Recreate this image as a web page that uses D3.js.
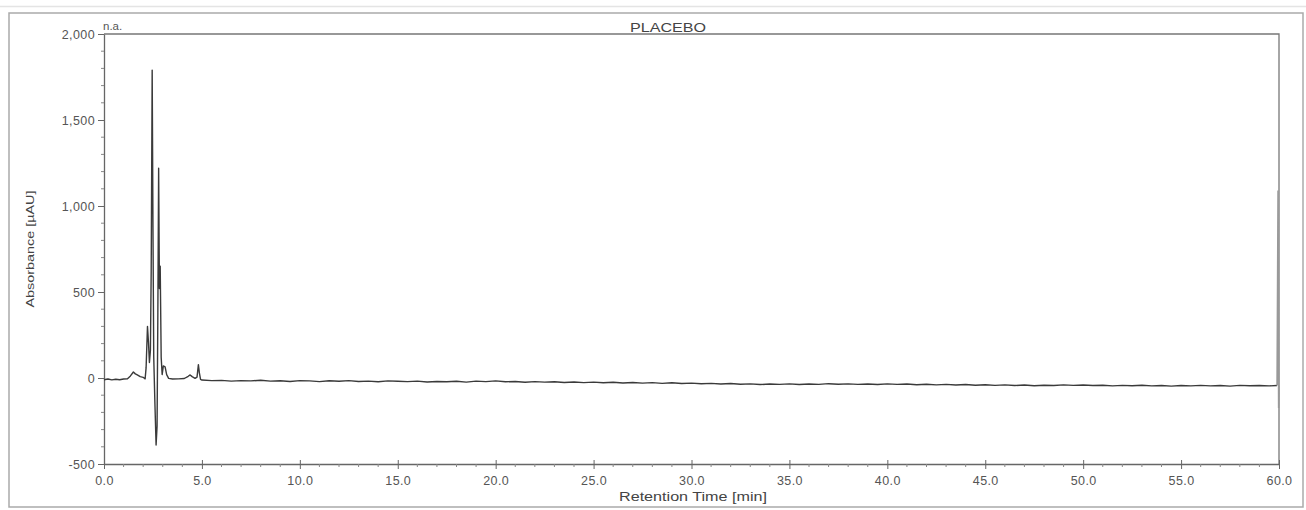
<!DOCTYPE html>
<html>
<head>
<meta charset="utf-8">
<script src="https://cdn.jsdelivr.net/npm/d3@7"></script>
<style>
  html, body { margin: 0; padding: 0; background: #fff; }
  svg { display: block; font-family: "Liberation Sans", Arial, sans-serif; }
</style>
</head>
<body>
<svg id="chart" width="1306" height="510"></svg>
<script>
// ---- data ----
const chartTitle = "PLACEBO";
const yUnitNote = "n.a.";
const xTitle = "Retention Time [min]";
const yTitle = "Absorbance [µAU]";
const xTickValues = [0, 5, 10, 15, 20, 25, 30, 35, 40, 45, 50, 55, 60];
const yTickValues = [-500, 0, 500, 1000, 1500, 2000];
const yTickLabels = ["-500", "0", "500", "1,000", "1,500", "2,000"];

// early peak region: [time (min), absorbance (µAU)]
const peakRegion = [
  [0.0, -10], [0.2, -6], [0.4, -11], [0.6, -7], [0.8, -10], [1.0, -6], [1.2, -4],
  [1.35, 12], [1.5, 35], [1.6, 24], [1.7, 18], [1.85, 8], [2.0, 4], [2.1, -5],
  [2.15, 60], [2.22, 300], [2.27, 210], [2.32, 90], [2.37, 160], [2.41, 620],
  [2.46, 1790], [2.5, 880], [2.54, 120], [2.6, -150], [2.66, -390], [2.71, -280],
  [2.75, 380], [2.79, 1220], [2.83, 520], [2.87, 650], [2.92, 120], [2.97, 20],
  [3.03, 70], [3.12, 65], [3.2, 20], [3.3, -2], [3.5, -6], [3.8, -5], [4.1, -3],
  [4.3, 10], [4.4, 18], [4.5, 8], [4.65, -2], [4.75, 5], [4.82, 78], [4.87, 30],
  [4.93, -8]
];

// baseline after 5 min: [time (min), absorbance (µAU)]
const baseline = [
  [5.0, -12], [5.5, -15], [6.0, -14], [6.5, -18], [7.0, -15], [7.5, -17], [8.0, -13],
  [8.5, -18], [9.0, -16], [9.5, -20], [10.0, -15], [10.5, -17], [11.0, -21], [11.5, -16],
  [12.0, -19], [12.5, -15], [13.0, -20], [13.5, -18], [14.0, -22], [14.5, -17], [15.0, -19],
  [15.5, -21], [16.0, -18], [16.5, -23], [17.0, -20], [17.5, -22], [18.0, -19], [18.5, -24],
  [19.0, -18], [19.5, -21], [20.0, -17], [20.5, -22], [21.0, -20], [21.5, -25], [22.0, -21],
  [22.5, -24], [23.0, -22], [23.5, -26], [24.0, -23], [24.5, -27], [25.0, -24], [25.5, -28],
  [26.0, -25], [26.5, -29], [27.0, -26], [27.5, -30], [28.0, -27], [28.5, -31], [29.0, -28],
  [29.5, -32], [30.0, -30], [30.5, -33], [31.0, -31], [31.5, -35], [32.0, -32], [32.5, -36],
  [33.0, -34], [33.5, -38], [34.0, -35], [34.5, -37], [35.0, -34], [35.5, -38], [36.0, -35],
  [36.5, -37], [37.0, -33], [37.5, -36], [38.0, -34], [38.5, -37], [39.0, -35], [39.5, -38],
  [40.0, -34], [40.5, -37], [41.0, -35], [41.5, -39], [42.0, -36], [42.5, -40], [43.0, -37],
  [43.5, -41], [44.0, -38], [44.5, -42], [45.0, -39], [45.5, -43], [46.0, -40], [46.5, -44],
  [47.0, -41], [47.5, -45], [48.0, -42], [48.5, -44], [49.0, -40], [49.5, -43], [50.0, -41],
  [50.5, -44], [51.0, -42], [51.5, -46], [52.0, -43], [52.5, -45], [53.0, -42], [53.5, -46],
  [54.0, -44], [54.5, -47], [55.0, -44], [55.5, -46], [56.0, -43], [56.5, -46], [57.0, -44],
  [57.5, -47], [58.0, -43], [58.5, -45], [59.0, -44], [59.5, -46], [59.9, -44]
];

// end-of-run spike
const endSpike = [[59.95, 1090], [59.98, -175], [60.0, -45]];

// ---- drawing ----
const svg = d3.select("#chart");
const W = 1306, H = 510;
const plot = { left: 104, right: 1279, top: 34, bottom: 464 };

const x = d3.scaleLinear().domain([0, 60]).range([plot.left, plot.right]);
const y = d3.scaleLinear().domain([-500, 2000]).range([plot.bottom, plot.top]);

const grayText = "#555";

// faint scan line at top
svg.append("line").attr("x1", 0).attr("x2", W).attr("y1", 6.5).attr("y2", 6.5)
  .attr("stroke", "#e4e4e4").attr("stroke-width", 1.5);

// outer frame
svg.append("rect").attr("x", 9).attr("y", 13).attr("width", 1294).attr("height", 494)
  .attr("fill", "none").attr("stroke", "#aaa").attr("stroke-width", 1.5);

// plot top & right frame lines
svg.append("path")
  .attr("d", `M${plot.left},${plot.top}H${plot.right}V${plot.bottom}`)
  .attr("fill", "none").attr("stroke", "#777").attr("stroke-width", 1.3);

// y axis
const yAxis = d3.axisLeft(y).tickValues(yTickValues).tickSize(6).tickSizeOuter(0)
  .tickFormat((d, i) => yTickLabels[i]);
const gy = svg.append("g").attr("transform", `translate(${plot.left},0)`).call(yAxis);
gy.select(".domain").attr("stroke", "#666").attr("stroke-width", 1.3);
gy.selectAll(".tick line").attr("stroke", "#666");
gy.selectAll(".tick text").attr("fill", grayText).attr("font-size", 12.5)
  .attr("x", -9).attr("letter-spacing", 0.4);

const yMinor = d3.range(-500, 2001, 100).filter(v => v % 500 !== 0);
svg.append("g").selectAll("line").data(yMinor).join("line")
  .attr("x1", plot.left - 3).attr("x2", plot.left)
  .attr("y1", d => y(d)).attr("y2", d => y(d))
  .attr("stroke", "#888");

// x axis
const xAxis = d3.axisBottom(x).tickValues(xTickValues).tickSize(5).tickSizeOuter(0)
  .tickFormat(d3.format(".1f"));
const gx = svg.append("g").attr("transform", `translate(0,${plot.bottom})`).call(xAxis);
gx.select(".domain").attr("stroke", "#666").attr("stroke-width", 1.3);
gx.selectAll(".tick line").attr("stroke", "#666").attr("y1", -4);
gx.selectAll(".tick text").attr("fill", grayText).attr("font-size", 12.5)
  .attr("y", 12).attr("letter-spacing", 0.4);

const xMinor = d3.range(0, 61, 1).filter(v => v % 5 !== 0);
svg.append("g").selectAll("line").data(xMinor).join("line")
  .attr("x1", d => x(d)).attr("x2", d => x(d))
  .attr("y1", plot.bottom).attr("y2", plot.bottom + 3)
  .attr("stroke", "#888");

// titles
svg.append("text").attr("x", 668).attr("y", 32).attr("text-anchor", "middle")
  .attr("font-size", 13.5).attr("fill", "#444")
  .attr("textLength", 76).attr("lengthAdjust", "spacingAndGlyphs").text(chartTitle);
svg.append("text").attr("x", 103).attr("y", 30)
  .attr("font-size", 11.5).attr("fill", grayText).text(yUnitNote);
svg.append("text").attr("x", 693).attr("y", 501).attr("text-anchor", "middle")
  .attr("font-size", 12.5).attr("fill", "#444")
  .attr("textLength", 148).attr("lengthAdjust", "spacingAndGlyphs").text(xTitle);
svg.append("text").attr("transform", `translate(34,249) rotate(-90)`)
  .attr("text-anchor", "middle").attr("font-size", 11.5).attr("fill", "#444")
  .attr("textLength", 117).attr("lengthAdjust", "spacingAndGlyphs").text(yTitle);

// trace
const line = d3.line().x(d => x(d[0])).y(d => y(d[1]));
const trace = peakRegion.concat(baseline);
svg.append("path").datum(trace).attr("d", line)
  .attr("fill", "none").attr("stroke", "#3a3a3a").attr("stroke-width", 1.4)
  .attr("stroke-linejoin", "round");
svg.append("path").datum([baseline[baseline.length - 1]].concat(endSpike)).attr("d", line)
  .attr("fill", "none").attr("stroke", "#999").attr("stroke-width", 1.5);
</script>
</body>
</html>
